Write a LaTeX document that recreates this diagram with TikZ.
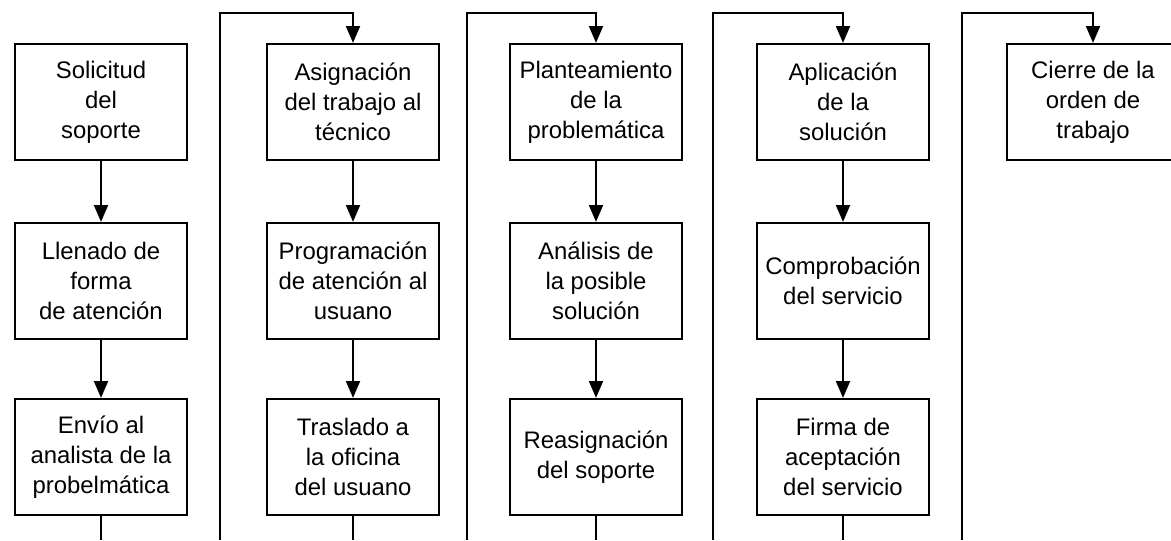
\documentclass[tikz,border=0pt]{standalone}
\usepackage{fontspec}
\setmainfont{Liberation Sans}
\usetikzlibrary{arrows.meta}

\begin{document}
\begin{tikzpicture}[x=0.025cm,y=-0.025cm,
  paso/.style={draw,line width=1.6pt,minimum width=4.3cm,minimum height=2.9cm,
    inner sep=0pt,align=center,font=\fontsize{17}{21.3}\selectfont},
  flecha/.style={line width=1.3pt,-{Triangle[width=0.35cm,length=0.42cm]}},
  linea/.style={line width=1.3pt}]
\useasboundingbox (0,0) rectangle (1171,540);
\clip (0,0) rectangle (1171,540);

% primera columna
\node[paso] (sol) at (101,102) {Solicitud\\del\\soporte};
\node[paso] (llen) at (101,281) {Llenado de\\forma\\de atención};
\node[paso] (env) at (101,457) {Envío al\\analista de la\\probelmática};

% segunda columna
\node[paso] (asig) at (353,102) {Asignación\\del trabajo al\\técnico};
\node[paso] (prog) at (353,281) {Programación\\de atención al\\usuano};
\node[paso] (tras) at (353,457) {Traslado a\\la oficina\\del usuano};

% tercera columna
\node[paso] (plan) at (596,102) {Planteamiento\\de la\\problemática};
\node[paso] (anal) at (596,281) {Análisis de\\la posible\\solución};
\node[paso] (reas) at (596,457) {Reasignación\\del soporte};

% cuarta columna
\node[paso] (apli) at (843,102) {Aplicación\\de la\\solución};
\node[paso] (comp) at (843,281) {Comprobación\\del servicio};
\node[paso] (firm) at (843,457) {Firma de\\aceptación\\del servicio};

% quinta columna
\node[paso] (cier) at (1093,102) {Cierre de la\\orden de\\trabajo};

\draw[flecha] (sol) -- (llen);
\draw[flecha] (llen) -- (env);
\draw[flecha] (asig) -- (prog);
\draw[flecha] (prog) -- (tras);
\draw[flecha] (plan) -- (anal);
\draw[flecha] (anal) -- (reas);
\draw[flecha] (apli) -- (comp);
\draw[flecha] (comp) -- (firm);

% salidas hacia abajo
\coordinate (fondo) at (0,540);
\draw[linea] (env.south) -- (env.south |- fondo);
\draw[linea] (tras.south) -- (tras.south |- fondo);
\draw[linea] (reas.south) -- (reas.south |- fondo);
\draw[linea] (firm.south) -- (firm.south |- fondo);

% regresos a la parte superior
\coordinate (b2) at (220,540);
\coordinate (t2) at (220,13);
\coordinate (b3) at (467,540);
\coordinate (t3) at (467,13);
\coordinate (b4) at (713,540);
\coordinate (t4) at (713,13);
\coordinate (b5) at (962,540);
\coordinate (t5) at (962,13);
\draw[flecha] (b2) -- (t2) -| (asig.north);
\draw[flecha] (b3) -- (t3) -| (plan.north);
\draw[flecha] (b4) -- (t4) -| (apli.north);
\draw[flecha] (b5) -- (t5) -| (cier.north);

\end{tikzpicture}
\end{document}
